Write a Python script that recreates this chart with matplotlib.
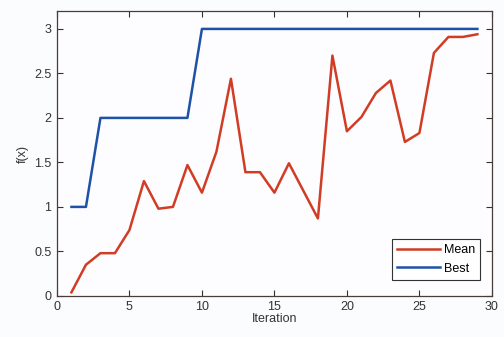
import matplotlib
matplotlib.use('Agg')
import matplotlib.pyplot as plt

iterations = list(range(1, 30))
mean_vals = [0.04, 0.35, 0.48, 0.48, 0.74, 1.29, 0.98, 1.00, 1.47, 1.16,
             1.62, 2.44, 1.39, 1.39, 1.16, 1.49, 1.18, 0.87, 2.70, 1.85,
             2.01, 2.28, 2.42, 1.73, 1.83, 2.73, 2.91, 2.91, 2.94]
best_vals = [1, 1, 2, 2, 2, 2, 2, 2, 2, 3,
             3, 3, 3, 3, 3, 3, 3, 3, 3, 3,
             3, 3, 3, 3, 3, 3, 3, 3, 3]

plt.rcParams['font.family'] = 'Liberation Sans'
plt.rcParams['font.size'] = 9

fig = plt.figure(figsize=(5.04, 3.37), dpi=100)
fig.patch.set_facecolor('#fbfcfe')
ax = fig.add_axes([0.113, 0.122, 0.863, 0.845])
ax.set_facecolor('#fdfdff')

ax.plot(iterations, mean_vals, color='#d13c24', lw=1.8, label='Mean')
ax.plot(iterations, best_vals, color='#1e52a8', lw=1.8, label='Best')

ax.set_xlim(0, 30)
ax.set_ylim(0, 3.2)
ax.set_xticks(range(0, 31, 5))
ax.set_yticks([0, 0.5, 1, 1.5, 2, 2.5, 3])
ax.set_yticklabels(['0', '0.5', '1', '1.5', '2', '2.5', '3'])
ax.tick_params(direction='in', top=True, right=True, length=4, width=0.8,
               colors='#333333', labelcolor='#333333', pad=4)
for s in ax.spines.values():
    s.set_color('#4a3c38')
    s.set_linewidth(0.9)

ax.set_xlabel('Iteration', color='#333333', labelpad=0)
ax.set_ylabel('f(x)', color='#333333', labelpad=4)

leg = ax.legend(loc='lower right', fancybox=False, framealpha=1,
                edgecolor='#333333', handlelength=3.5, borderpad=0.4,
                handletextpad=0.3, fontsize=9, bbox_to_anchor=(0.988, 0.035))
leg.get_frame().set_linewidth(0.8)

fig.savefig('out.png', dpi=100, facecolor=fig.get_facecolor())
